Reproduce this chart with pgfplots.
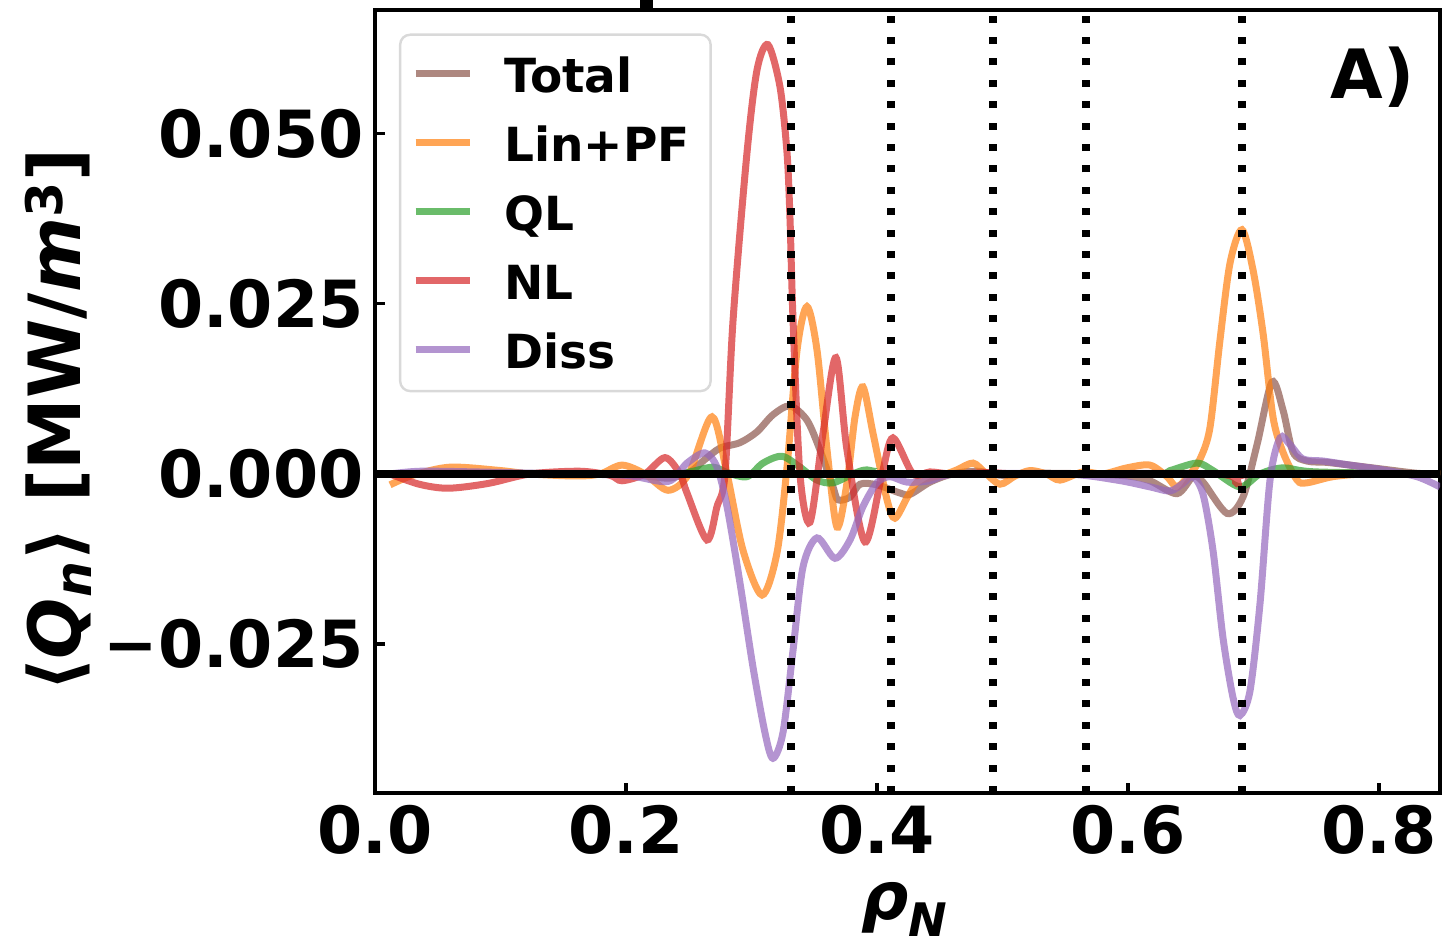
\documentclass[border=0pt]{standalone}
\usepackage{fontspec}
\setmainfont{DejaVu Sans}
\usepackage{pgfplots}
\pgfplotsset{compat=1.18}
\definecolor{cTotal}{HTML}{8C564B}
\definecolor{cLin}{HTML}{FF7F0E}
\definecolor{cQL}{HTML}{2CA02C}
\definecolor{cNL}{HTML}{D62728}
\definecolor{cDiss}{HTML}{9467BD}
\begin{document}
\begin{tikzpicture}
\begin{axis}[
  at={(187.5bp,-5bp)}, anchor=north west,
  scale only axis, width=532.5bp, height=391.5bp,
  xmin=0, xmax=0.8486, ymin=-0.0469, ymax=0.0682,
  axis line style={line width=2bp},
  xtick={0,0.2,0.4,0.6,0.8}, xticklabels={0.0,0.2,0.4,0.6,0.8},
  ytick={-0.025,0,0.025,0.05}, yticklabels={−0.025,0.000,0.025,0.050},
  tick align=inside, tick pos=left,
  major tick length=5bp,
  every tick/.style={black, line width=1.6bp},
  ticklabel style={font=\fontsize{32.5bp}{38bp}\selectfont\bfseries, inner sep=0pt},
  yticklabel style={xshift=-5.5bp},
  xticklabel style={yshift=-6bp},
  xlabel={\fontsize{33bp}{38bp}\selectfont\bfseries\itshape ρ\textsubscript{N}},
  xlabel style={at={(axis description cs:0.4977,-0.162)}, anchor=base, inner sep=0pt},
  ylabel={\fontsize{36bp}{40bp}\selectfont\bfseries ⟨\textit{Q}\textsubscript{\textit{n}}⟩ [MW/\textit{m}\textsuperscript{3}]},
  ylabel style={at={(axis description cs:-0.277,0.476)}, anchor=base, inner sep=0pt},
  legend style={at={(axis description cs:0.0225,0.970)}, anchor=north west,
    draw=black!15, line width=1.2bp, rounded corners=5bp, fill=white,
    font=\fontsize{23.5bp}{28bp}\selectfont\bfseries,
    inner xsep=6bp, inner ysep=11.5bp, row sep=17.3bp, column sep=15.5bp,
    nodes={inner sep=0pt, text height=17.2bp, text depth=0pt}},
  legend cell align=left,
  legend image code/.code={\draw[#1, line width=3.5bp, sharp corners] (0bp,0.6bp) -- (27bp,0.6bp);},
  every axis plot/.append style={line width=3.5bp, smooth, draw opacity=0.7},
]
\addplot[color=cTotal] coordinates {(0.012,0) (0.06,0.0002) (0.12,0.0001) (0.18,0) (0.215,-0.0003) (0.235,-0.0006) (0.251,0.0003) (0.262,0.0020) (0.2749,0.0038) (0.2908,0.0046) (0.3044,0.0062) (0.3171,0.0087) (0.3307,0.0100) (0.3442,0.0079) (0.3546,0.0035) (0.3649,-0.0019) (0.3689,-0.0038) (0.3785,-0.0034) (0.3865,-0.0015) (0.400,-0.0016) (0.4183,-0.0028) (0.4263,-0.0030) (0.4422,-0.0012) (0.46,0) (0.48,0.0004) (0.50,-0.0002) (0.53,0.0001) (0.57,0) (0.60,-0.0003) (0.6175,-0.0010) (0.6390,-0.0029) (0.6518,-0.0004) (0.6598,-0.0012) (0.6789,-0.0058) (0.6916,-0.0034) (0.7028,0.0043) (0.7147,0.0135) (0.7235,0.0094) (0.7315,0.0032) (0.7426,0.0019) (0.7586,0.0017) (0.7769,0.0013) (0.8032,0.0007) (0.8303,0.0001) (0.8486,0)};
\addlegendentry{Total}
\addplot[color=cLin] coordinates {(0.012,-0.0016) (0.03,-0.0002) (0.0598,0.0010) (0.10,0.0005) (0.1235,0) (0.16,-0.0003) (0.1793,0) (0.1968,0.0013) (0.215,0) (0.2335,-0.0024) (0.25,0) (0.2685,0.0084) (0.2805,0) (0.2932,-0.0112) (0.3084,-0.0178) (0.3203,-0.0116) (0.3283,0.0010) (0.3363,0.0182) (0.3442,0.0246) (0.3522,0.0182) (0.3602,0.0035) (0.3681,-0.0078) (0.3761,-0.0013) (0.3825,0.0084) (0.3888,0.0128) (0.3968,0.0060) (0.4080,-0.0038) (0.4143,-0.0065) (0.4239,-0.0035) (0.4319,-0.0012) (0.4422,-0.0006) (0.455,0) (0.4637,0.0006) (0.4765,0.0016) (0.4860,0.0002) (0.4980,-0.0015) (0.51,-0.0003) (0.5219,0.0005) (0.535,0) (0.5458,-0.0009) (0.5641,0.0003) (0.58,0) (0.5992,0.0009) (0.6175,0.0013) (0.6311,-0.0004) (0.6390,-0.0019) (0.6494,0) (0.6574,0.0022) (0.6653,0.0068) (0.6733,0.0197) (0.6813,0.0310) (0.6908,0.0359) (0.6996,0.0300) (0.7076,0.0207) (0.7155,0.0084) (0.7235,0.0032) (0.7347,-0.0009) (0.7426,-0.0013) (0.7633,-0.0004) (0.79,0) (0.8486,0)};
\addlegendentry{Lin+PF\hspace*{4.5bp}}
\addplot[color=cQL] coordinates {(0.012,0) (0.20,0) (0.24,0) (0.2510,0.0003) (0.2693,0.0010) (0.2805,0.0002) (0.2964,-0.0004) (0.3092,0.0016) (0.3243,0.0026) (0.3386,0.0010) (0.3522,-0.0009) (0.3649,-0.0013) (0.3809,0) (0.3920,0.0006) (0.41,0) (0.62,0) (0.6335,0.0005) (0.6550,0.0016) (0.6677,0.0005) (0.6892,-0.0019) (0.7052,0) (0.7235,0.0009) (0.75,0.0003) (0.8486,0)};
\addlegendentry{QL}
\addplot[color=cNL] coordinates {(0.012,0) (0.035,-0.0015) (0.0582,-0.0021) (0.09,-0.0014) (0.1235,0) (0.1633,0.0004) (0.1873,-0.0002) (0.1968,-0.0010) (0.2150,0) (0.2311,0.0024) (0.2430,0) (0.2486,-0.0028) (0.2645,-0.0097) (0.2725,-0.0048) (0.2789,0) (0.2853,0.0226) (0.2964,0.0472) (0.3044,0.0594) (0.3131,0.0631) (0.3227,0.0569) (0.3283,0.0472) (0.3307,0.0374) (0.3331,0.0226) (0.3386,0) (0.3466,-0.0071) (0.3570,0.0060) (0.3673,0.0171) (0.3761,0.0035) (0.3904,-0.0100) (0.4040,0) (0.4127,0.0053) (0.4287,0) (0.4422,0.0003) (0.46,0) (0.49,0.0002) (0.52,0) (0.67,0) (0.6869,-0.0014) (0.70,0) (0.8486,0)};
\addlegendentry{NL}
\addplot[color=cDiss] coordinates {(0.012,0) (0.0359,0.0004) (0.08,0.0003) (0.15,0) (0.20,-0.0002) (0.2335,-0.0011) (0.2486,0.0016) (0.2629,0.0031) (0.2725,0.0010) (0.2805,-0.0048) (0.2908,-0.0160) (0.3012,-0.0284) (0.3108,-0.0381) (0.3171,-0.0418) (0.3251,-0.0380) (0.3331,-0.0259) (0.3410,-0.0137) (0.3522,-0.0094) (0.3665,-0.0124) (0.3785,-0.0097) (0.3888,-0.0048) (0.4000,-0.0013) (0.4104,-0.0004) (0.4239,-0.0012) (0.4422,-0.0010) (0.4637,0) (0.55,0) (0.5912,-0.0009) (0.6175,-0.0019) (0.6335,-0.0025) (0.6438,-0.0014) (0.6518,-0.0004) (0.6598,-0.0030) (0.6677,-0.0112) (0.6757,-0.0241) (0.6837,-0.0329) (0.6892,-0.0355) (0.6972,-0.0319) (0.7052,-0.0190) (0.7131,-0.0010) (0.7211,0.0053) (0.7291,0.0043) (0.7394,0.0022) (0.7554,0.0019) (0.7769,0.0013) (0.8032,0.0006) (0.8303,-0.0004) (0.8486,-0.0019)};
\addlegendentry{Diss}
\addplot[black, line width=3.7bp, draw opacity=1, sharp plot, forget plot] coordinates {(0,0) (0.8486,0)};
\pgfplotsinvokeforeach{0.3315,0.4112,0.4924,0.5665,0.6908}{
  \addplot[black, line width=3.6bp, draw opacity=1, sharp plot, dash pattern=on 3.5bp off 7.2bp, forget plot] coordinates {(#1,-0.0469) (#1,0.0682)};
}
\node[anchor=base east, inner sep=0pt, font=\fontsize{34bp}{40bp}\selectfont\bfseries] at (axis description cs:0.9765,0.887) {A)};
\end{axis}
\fill[black] (320bp,0bp) rectangle (326.5bp,-5bp);
\pgfresetboundingbox
\path[use as bounding box] (0bp,0bp) rectangle (721bp,-470.5bp);
\end{tikzpicture}
\end{document}
